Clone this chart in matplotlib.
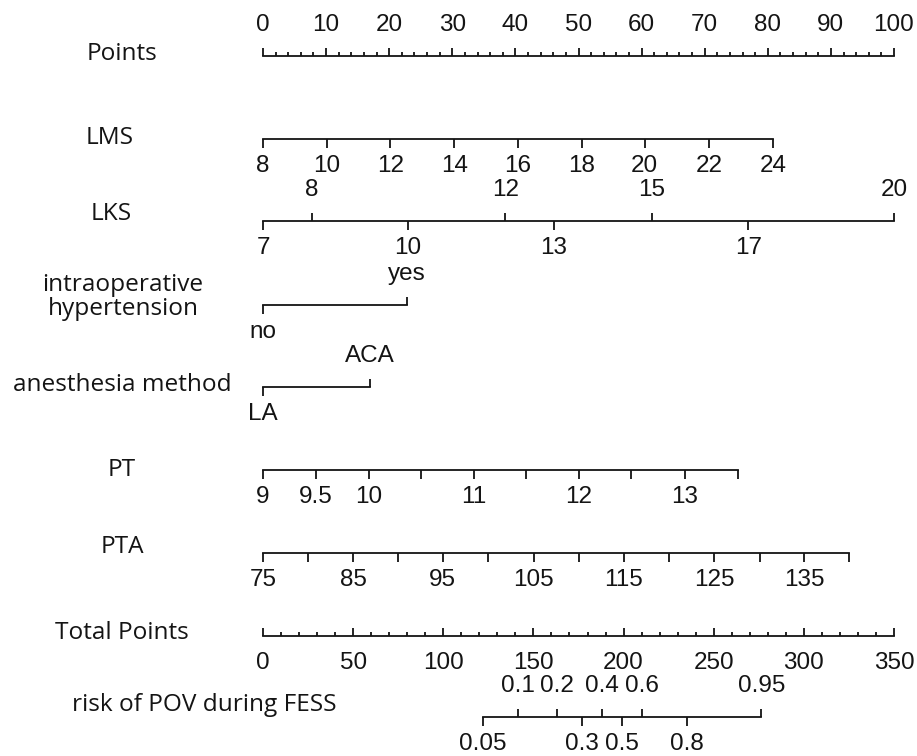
import matplotlib
matplotlib.use("Agg")
import matplotlib.pyplot as plt
import numpy as np

# ---------------- data (values and their nomogram points) ----------------
points_major = [0, 10, 20, 30, 40, 50, 60, 70, 80, 90, 100]
points_minor = list(range(0, 101, 2))

lms_values = [8, 10, 12, 14, 16, 18, 20, 22, 24]
lms_points = [0, 10.1, 20.2, 30.3, 40.4, 50.5, 60.5, 70.7, 80.9]

lks_values = [7, 8, 10, 12, 13, 15, 17, 20]
lks_points = [0, 7.7, 23.0, 38.4, 46.1, 61.6, 76.9, 100]
lks_up = [8, 12, 15, 20]

hyp_levels = ["no", "yes"]
hyp_points = [0, 22.8]

anes_levels = ["LA", "ACA"]
anes_points = [0, 17.0]

pt_values = [9, 9.5, 10, 10.5, 11, 11.5, 12, 12.5, 13, 13.5]
pt_points = [0, 8.4, 16.8, 25.0, 33.4, 41.7, 50.0, 58.3, 66.8, 75.2]
pt_labels = ["9", "9.5", "10", "", "11", "", "12", "", "13", ""]

pta_values = [75, 80, 85, 90, 95, 100, 105, 110, 115, 120, 125, 130, 135, 140]
pta_points = [0, 7.2, 14.3, 21.4, 28.5, 35.7, 42.9, 50.0, 57.2, 64.4, 71.5, 78.7, 85.8, 92.9]
pta_labels = ["75", "", "85", "", "95", "", "105", "", "115", "", "125", "", "135", ""]

total_major = [0, 50, 100, 150, 200, 250, 300, 350]
total_minor = list(range(0, 351, 10))
total_max = 350

risk_values = [0.05, 0.1, 0.2, 0.3, 0.4, 0.5, 0.6, 0.8, 0.95]
risk_total = [121.9, 141.2, 163.3, 176.9, 188.2, 198.9, 210.0, 235.3, 276.5]
risk_up = [0.1, 0.2, 0.4, 0.6, 0.95]

row_names = ["Points", "LMS", "LKS", "intraoperative\nhypertension",
             "anesthesia method", "PT", "PTA", "Total Points",
             "risk of POV during FESS"]

# ---------------- layout ----------------
W, H = 917, 756
fig = plt.figure(figsize=(W / 100, H / 100), dpi=100)
ax = fig.add_axes([0, 0, 1, 1])
px0, px100 = 263.0, 894.0
scale = (px100 - px0) / 100.0
ax.set_xlim(-px0 / scale, (W - px0) / scale)
ax.set_ylim(H, 0)
ax.axis("off")

NUM_FONT = ["Liberation Sans Narrow", "Liberation Sans", "DejaVu Sans"]
LAB_FONT = ["Open Sans", "Noto Sans", "DejaVu Sans"]
NUM_SIZE = 17.5
LAB_SIZE = 17.6
LW = 1.3
TICK = 8.5
MINOR = 4.5
col = "#141414"

def hline(x0, x1, y):
    ax.plot([x0, x1], [y, y], color=col, lw=LW, solid_capstyle="projecting")

def tick(x, y, length, up):
    d = -length if up else length
    ax.plot([x, x], [y, y + d], color=col, lw=LW, solid_capstyle="butt")

def lab(x, y, s, above):
    ax.text(x, y - 31 if above else y + 27, s, ha="center", va="center",
            fontsize=NUM_SIZE, family=NUM_FONT, color=col)

def rowlabel(xpix, y, s):
    ax.text((xpix - px0) / scale, y, s, ha="center", va="center",
            fontsize=LAB_SIZE, family=LAB_FONT, color=col, linespacing=1.0)

rows_y = [56, 139, 221, 305, 387, 470, 553, 636, 717]
label_pos = [(122, 54), (110, 138), (111, 214), (123, 297), (122, 385),
             (122, 470), (122, 547), (122, 633), (204, 705)]
for s, (lx, ly) in zip(row_names, label_pos):
    rowlabel(lx, ly, s)

# Points
y = rows_y[0]
hline(0, 100, y)
for p in points_minor:
    tick(p, y, TICK if p in points_major else MINOR, up=True)
for p in points_major:
    lab(p, y, str(p), above=True)

# LMS
y = rows_y[1]
hline(lms_points[0], lms_points[-1], y)
for v, p in zip(lms_values, lms_points):
    tick(p, y, TICK, up=False)
    lab(p, y, str(v), above=False)

# LKS
y = rows_y[2]
hline(lks_points[0], lks_points[-1], y)
for v, p in zip(lks_values, lks_points):
    up = v in lks_up
    tick(p, y, TICK, up=up)
    lab(p, y, str(v), above=up)

# intraoperative hypertension
y = rows_y[3]
hline(hyp_points[0], hyp_points[-1], y)
for i, (s, p) in enumerate(zip(hyp_levels, hyp_points)):
    up = i % 2 == 1
    tick(p, y, TICK, up=up)
    lab(p, y, s, above=up)

# anesthesia method
y = rows_y[4]
hline(anes_points[0], anes_points[-1], y)
for i, (s, p) in enumerate(zip(anes_levels, anes_points)):
    up = i % 2 == 1
    tick(p, y, TICK, up=up)
    lab(p, y, s, above=up)

# PT
y = rows_y[5]
hline(pt_points[0], pt_points[-1], y)
for s, p in zip(pt_labels, pt_points):
    tick(p, y, TICK, up=False)
    if s:
        lab(p, y, s, above=False)

# PTA
y = rows_y[6]
hline(pta_points[0], pta_points[-1], y)
for s, p in zip(pta_labels, pta_points):
    tick(p, y, TICK, up=False)
    if s:
        lab(p, y, s, above=False)

# Total points
y = rows_y[7]
hline(0, 100, y)
for t in total_minor:
    tick(t / total_max * 100, y, TICK if t in total_major else MINOR, up=True)
for t in total_major:
    lab(t / total_max * 100, y, str(t), above=False)

# Risk
y = rows_y[8]
rp = [t / total_max * 100 for t in risk_total]
hline(rp[0], rp[-1], y)
for v, p in zip(risk_values, rp):
    up = v in risk_up
    tick(p, y, TICK, up=up)
    lab(p, y, f"{v:g}", above=up)

fig.savefig("out.png", dpi=100, facecolor="white")
